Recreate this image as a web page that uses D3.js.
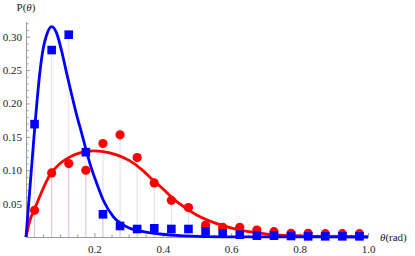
<!DOCTYPE html>
<html>
<head>
<meta charset="utf-8">
<script src="https://cdn.jsdelivr.net/npm/d3@7"></script>
<style>
  body { margin: 0; background: #fff; }
</style>
</head>
<body>
<div id="chart"></div>
<script>
// sample angles (bin centres) for the measured points
var thetaPts = [0.025, 0.075, 0.125, 0.175, 0.225, 0.275, 0.325, 0.375, 0.425, 0.475,
                0.525, 0.575, 0.625, 0.675, 0.725, 0.775, 0.825, 0.875, 0.925, 0.975];
var redPts = [0.040, 0.096, 0.110, 0.100, 0.140, 0.153, 0.119, 0.081, 0.055, 0.044,
              0.018, 0.0145, 0.0145, 0.0105, 0.008, 0.0055, 0.0055, 0.005, 0.005, 0.005];
var bluePts = [0.169, 0.280, 0.303, 0.127, 0.034, 0.0165, 0.012, 0.013, 0.012, 0.012,
               0.0085, 0.0055, 0.0035, 0.002, 0.002, 0.0015, 0.001, 0.001, 0.001, 0.001];

// fitted curves
var blueCurveTheta = [0, 0.0125, 0.0254, 0.0313, 0.0409, 0.0506, 0.0605, 0.0751, 0.0898, 0.1044,
                      0.119, 0.1336, 0.148, 0.163, 0.187, 0.207, 0.226, 0.255, 0.294, 0.343,
                      0.392, 0.45, 0.5, 0.6, 0.8, 1.0];
var blueCurveP = [0, 0.08, 0.163, 0.198, 0.248, 0.283, 0.303, 0.315, 0.305, 0.278,
                  0.245, 0.213, 0.183, 0.155, 0.110, 0.080, 0.055, 0.0305, 0.0154, 0.0079,
                  0.0045, 0.002, 0.001, 0.0003, 0.0001, 0];
var redCurveTheta = [0, 0.0117, 0.0234, 0.070, 0.0994, 0.1287, 0.158, 0.197, 0.226, 0.265,
                     0.304, 0.343, 0.363, 0.392, 0.441, 0.499, 0.558, 0.616, 0.675, 0.733,
                     0.85, 1.0];
var redCurveP = [0, 0.0255, 0.040, 0.093, 0.110, 0.120, 0.126, 0.129, 0.128, 0.123,
                 0.114, 0.099, 0.089, 0.076, 0.053, 0.033, 0.020, 0.0115, 0.0065, 0.003,
                 0.001, 0.0003];

var xMajor = [0.2, 0.4, 0.6, 0.8, 1.0];
var yMajor = [0.05, 0.10, 0.15, 0.20, 0.25, 0.30];

var svgWidth = 415;
var svgHeight = 256;
var serif = "'Liberation Serif', 'DejaVu Serif', Times, serif";

var svg = d3.select("#chart")
    .append("svg")
    .attr("width", svgWidth)
    .attr("height", svgHeight)
    .attr("font-family", serif);

var xScale = d3.scaleLinear().domain([0, 1]).range([26, 368]);
var yScale = d3.scaleLinear().domain([0, 0.322]).range([237, 22]);

// filling lines from each point down to the axis
var fillGroup = svg.append("g");
fillGroup.selectAll("line.red")
    .data(thetaPts)
    .enter()
    .append("line")
    .attr("x1", d => xScale(d))
    .attr("x2", d => xScale(d))
    .attr("y1", yScale(0))
    .attr("y2", (d, i) => yScale(redPts[i]))
    .attr("stroke", "rgb(120,120,200)")
    .attr("stroke-opacity", 0.25)
    .attr("stroke-width", 1);
fillGroup.selectAll("line.blue")
    .data(thetaPts)
    .enter()
    .append("line")
    .attr("x1", d => xScale(d))
    .attr("x2", d => xScale(d))
    .attr("y1", yScale(0))
    .attr("y2", (d, i) => yScale(bluePts[i]))
    .attr("stroke", "rgb(225,110,170)")
    .attr("stroke-opacity", 0.25)
    .attr("stroke-width", 1);

// axes
var axisColor = "#999";
svg.append("g")
    .attr("transform", `translate(0, ${yScale(0)})`)
    .call(d3.axisBottom(xScale)
        .tickValues(xMajor)
        .tickFormat(d3.format(".1f"))
        .tickSizeInner(-4)
        .tickSizeOuter(0)
        .tickPadding(8));
svg.append("g")
    .attr("transform", `translate(0, ${yScale(0)})`)
    .call(d3.axisBottom(xScale)
        .tickValues(d3.range(1, 20).map(i => i * 0.05).filter(v => Math.round(v * 100) % 20 !== 0))
        .tickFormat("")
        .tickSizeInner(-2.5)
        .tickSizeOuter(0));

svg.append("g")
    .attr("transform", `translate(${xScale(0)}, 0)`)
    .call(d3.axisLeft(yScale)
        .tickValues(yMajor)
        .tickFormat(d3.format(".2f"))
        .tickSizeInner(-4)
        .tickSizeOuter(0)
        .tickPadding(4));
svg.append("g")
    .attr("transform", `translate(${xScale(0)}, 0)`)
    .call(d3.axisLeft(yScale)
        .tickValues(d3.range(1, 33).map(i => i * 0.01).filter(v => Math.round(v * 100) % 5 !== 0))
        .tickFormat("")
        .tickSizeInner(-2.5)
        .tickSizeOuter(0));

// d3 axes put sans-serif on their groups, swap it back to serif
svg.selectAll("g").attr("font-family", serif).attr("font-size", 11);
svg.selectAll(".domain, .tick line").attr("stroke", axisColor);
svg.selectAll(".tick text").attr("fill", "#222");

// curves
var line = d3.line()
    .x(d => xScale(d[0]))
    .y(d => yScale(d[1]))
    .curve(d3.curveMonotoneX);

svg.append("path")
    .datum(redCurveTheta.map((t, i) => [t, redCurveP[i]]))
    .attr("d", line)
    .attr("fill", "none")
    .attr("stroke", "#ff0000")
    .attr("stroke-width", 2.8);

svg.append("path")
    .datum(blueCurveTheta.map((t, i) => [t, blueCurveP[i]]))
    .attr("d", line)
    .attr("fill", "none")
    .attr("stroke", "#0000ff")
    .attr("stroke-width", 2.8);

// points
svg.append("g").selectAll("circle")
    .data(thetaPts)
    .enter()
    .append("circle")
    .attr("cx", d => xScale(d))
    .attr("cy", (d, i) => yScale(redPts[i]))
    .attr("r", 4.6)
    .attr("fill", "#ff0000");

var sq = 8.6;
svg.append("g").selectAll("rect")
    .data(thetaPts)
    .enter()
    .append("rect")
    .attr("x", d => xScale(d) - sq / 2)
    .attr("y", (d, i) => yScale(bluePts[i]) - sq / 2)
    .attr("width", sq)
    .attr("height", sq)
    .attr("fill", "#0000ff");

// axis labels
var yLabel = svg.append("text")
    .attr("x", 26)
    .attr("y", 11)
    .attr("text-anchor", "middle")
    .attr("fill", "#222")
    .attr("font-size", 11);
yLabel.append("tspan").text("P(");
yLabel.append("tspan").attr("font-style", "italic").text("θ");
yLabel.append("tspan").text(")");

var xLabel = svg.append("text")
    .attr("x", 380)
    .attr("y", 241)
    .attr("fill", "#222")
    .attr("font-size", 11);
xLabel.append("tspan").attr("font-style", "italic").text("θ");
xLabel.append("tspan").text("(rad)");
</script>
</body>
</html>
